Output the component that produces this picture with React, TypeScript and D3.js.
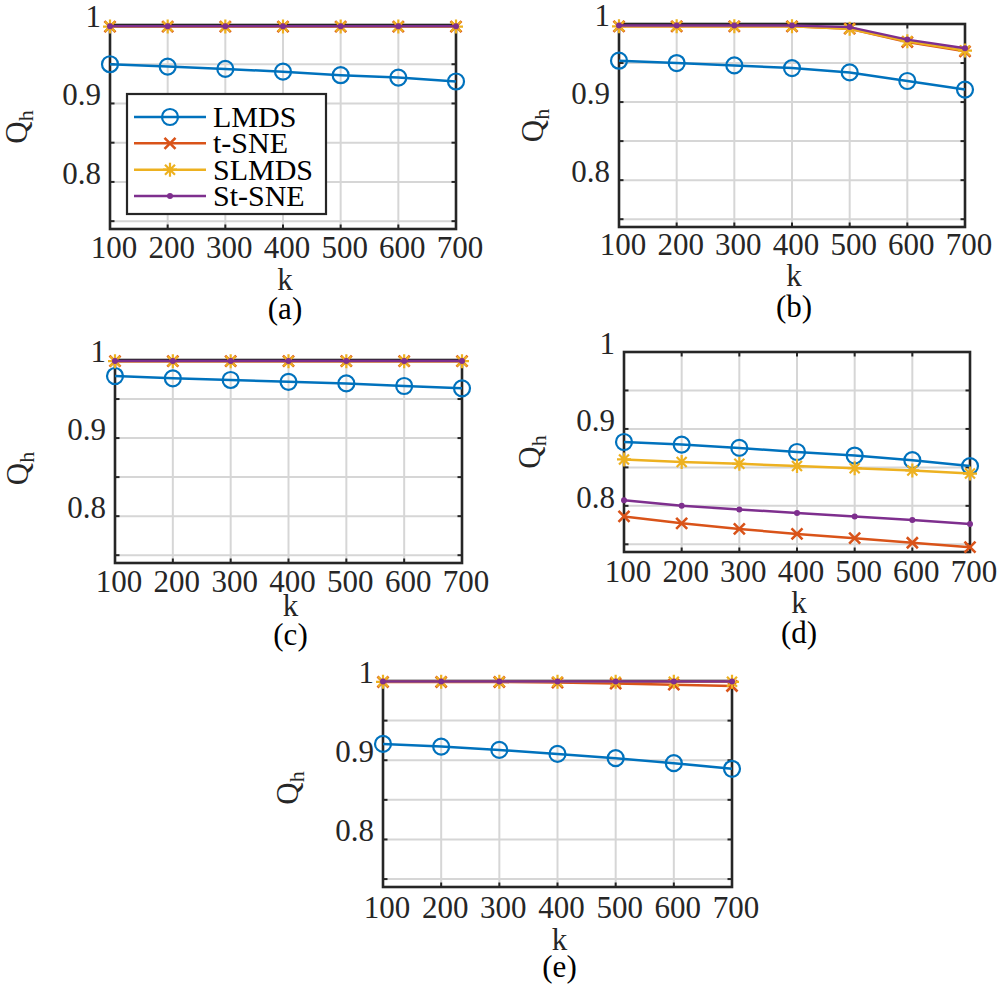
import * as d3 from "d3";
import React, { useEffect, useRef } from "react";

const kValues = [100, 200, 300, 400, 500, 600, 700];
const methodNames = ["LMDS", "t-SNE", "SLMDS", "St-SNE"];
const methodColors = ["#0072BD", "#D95319", "#EDB120", "#7E2F8E"];
const methodMarkers = ["o", "x", "*", "."];
const yTickValues = [0.75, 0.8, 0.85, 0.9, 0.95, 1];
const yTickLabels = ["", "0.8", "", "0.9", "", "1"];
const panelCaptions = ["(a)", "(b)", "(c)", "(d)", "(e)"];

// rows: LMDS, t-SNE, SLMDS, St-SNE
const qhPanelA = [
  [0.95, 0.947, 0.944, 0.9405, 0.936, 0.933, 0.928],
  [0.998, 0.998, 0.998, 0.998, 0.998, 0.998, 0.998],
  [0.998, 0.998, 0.998, 0.998, 0.998, 0.998, 0.998],
  [0.9985, 0.9985, 0.9985, 0.9985, 0.9985, 0.9985, 0.9985],
];
const qhPanelB = [
  [0.953, 0.95, 0.947, 0.9435, 0.938, 0.927, 0.916],
  [0.997, 0.997, 0.997, 0.997, 0.994, 0.977, 0.965],
  [0.997, 0.997, 0.997, 0.997, 0.994, 0.978, 0.966],
  [0.998, 0.998, 0.998, 0.998, 0.996, 0.98, 0.969],
];
const qhPanelC = [
  [0.9795, 0.9765, 0.9744, 0.972, 0.97, 0.9667, 0.9637],
  [0.9985, 0.9985, 0.9985, 0.9985, 0.9985, 0.9985, 0.9985],
  [0.9985, 0.9985, 0.9985, 0.9985, 0.9985, 0.9985, 0.9985],
  [0.9987, 0.9987, 0.9987, 0.9987, 0.9987, 0.9987, 0.9987],
];
const qhPanelD = [
  [0.883, 0.8796, 0.8753, 0.87, 0.8654, 0.8594, 0.8517],
  [0.7863, 0.7773, 0.77, 0.7635, 0.758, 0.752, 0.7463],
  [0.8603, 0.857, 0.8547, 0.8517, 0.849, 0.846, 0.842],
  [0.8074, 0.8, 0.7954, 0.7906, 0.786, 0.7816, 0.7765],
];
const qhPanelE = [
  [0.9206, 0.9172, 0.913, 0.908, 0.9026, 0.8963, 0.8892],
  [0.9987, 0.9987, 0.9987, 0.998, 0.9967, 0.9954, 0.9937],
  [0.999, 0.999, 0.999, 0.999, 0.999, 0.999, 0.999],
  [0.9995, 0.9995, 0.9995, 0.9995, 0.9995, 0.9995, 0.9995],
];
const panelValues = [qhPanelA, qhPanelB, qhPanelC, qhPanelD, qhPanelE];

// pixel layout of each axes box
const panelLayout = [
  { left: 110, right: 456, top: 25, bottom: 229, tickDy: 29, kDy: 61, capDy: 90, qx: 27, qdy: 0, legend: true },
  { left: 619, right: 965, top: 24, bottom: 227, tickDy: 28, kDy: 59, capDy: 90, qx: 543, qdy: 0, legend: false },
  { left: 115, right: 462, top: 360, bottom: 563, tickDy: 29, kDy: 53, capDy: 82, qx: 28, qdy: 7, legend: false },
  { left: 624, right: 970, top: 352, bottom: 552, tickDy: 30, kDy: 61, capDy: 91, qx: 540, qdy: 0, legend: false },
  { left: 383, right: 732, top: 681, bottom: 887, tickDy: 31, kDy: 63, capDy: 90, qx: 298, qdy: 4, legend: false },
];

const FONT = "'Times New Roman', 'Liberation Serif', serif";
const AXIS_COLOR = "#262626";
const GRID_COLOR = "#d6d6d6";

function drawMarker(g: any, type: string, x: number, y: number, color: string) {
  if (type === "o") {
    g.append("circle").attr("cx", x).attr("cy", y).attr("r", 8)
      .attr("fill", "none").attr("stroke", color).attr("stroke-width", 2.2);
  } else if (type === "x") {
    g.append("path")
      .attr("d", `M${x - 5.5},${y - 5.5}L${x + 5.5},${y + 5.5}M${x - 5.5},${y + 5.5}L${x + 5.5},${y - 5.5}`)
      .attr("stroke", color).attr("stroke-width", 2.6).attr("fill", "none");
  } else if (type === "*") {
    const a = 7, b = 5;
    g.append("path")
      .attr("d", `M${x - a},${y}H${x + a}M${x},${y - a}V${y + a}M${x - b},${y - b}L${x + b},${y + b}M${x - b},${y + b}L${x + b},${y - b}`)
      .attr("stroke", color).attr("stroke-width", 2.2).attr("fill", "none");
  } else {
    g.append("circle").attr("cx", x).attr("cy", y).attr("r", 3).attr("fill", color);
  }
}

const App: React.FC = () => {
  const svgRef = useRef<SVGSVGElement | null>(null);

  useEffect(() => {
    const svg = d3.select(svgRef.current);
    svg.html(""); // Clear previous contents

    panelLayout.forEach((p, pi) => {
      const x = d3.scaleLinear().domain([100, 700]).range([p.left, p.right]);
      const y = d3.scaleLinear().domain([0.74, 1.0]).range([p.bottom, p.top]);
      const g = svg.append("g");

      // grid
      kValues.forEach((k) => {
        g.append("line").attr("x1", x(k)).attr("x2", x(k)).attr("y1", p.top).attr("y2", p.bottom)
          .attr("stroke", GRID_COLOR).attr("stroke-width", 2);
      });
      yTickValues.forEach((t) => {
        g.append("line").attr("x1", p.left).attr("x2", p.right).attr("y1", y(t)).attr("y2", y(t))
          .attr("stroke", GRID_COLOR).attr("stroke-width", 2);
      });

      // ticks (inward, both sides)
      const tl = 4.5;
      kValues.forEach((k) => {
        g.append("line").attr("x1", x(k)).attr("x2", x(k)).attr("y1", p.bottom).attr("y2", p.bottom - tl)
          .attr("stroke", AXIS_COLOR).attr("stroke-width", 2);
        g.append("line").attr("x1", x(k)).attr("x2", x(k)).attr("y1", p.top).attr("y2", p.top + tl)
          .attr("stroke", AXIS_COLOR).attr("stroke-width", 2);
      });
      yTickValues.forEach((t) => {
        g.append("line").attr("x1", p.left).attr("x2", p.left + tl).attr("y1", y(t)).attr("y2", y(t))
          .attr("stroke", AXIS_COLOR).attr("stroke-width", 2);
        g.append("line").attr("x1", p.right).attr("x2", p.right - tl).attr("y1", y(t)).attr("y2", y(t))
          .attr("stroke", AXIS_COLOR).attr("stroke-width", 2);
      });

      // box
      g.append("rect").attr("x", p.left).attr("y", p.top)
        .attr("width", p.right - p.left).attr("height", p.bottom - p.top)
        .attr("fill", "none").attr("stroke", AXIS_COLOR).attr("stroke-width", 2.6);

      // tick labels
      kValues.forEach((k) => {
        g.append("text").attr("x", x(k) + 4).attr("y", p.bottom + p.tickDy)
          .attr("text-anchor", "middle").attr("font-family", FONT).attr("font-size", 31)
          .attr("fill", AXIS_COLOR).text(String(k));
      });
      yTickValues.forEach((t, i) => {
        if (!yTickLabels[i]) return;
        g.append("text").attr("x", p.left - 9).attr("y", y(t) + 2)
          .attr("text-anchor", "end").attr("font-family", FONT).attr("font-size", 31)
          .attr("fill", AXIS_COLOR).text(yTickLabels[i]);
      });

      // axis labels
      const cx = (p.left + p.right) / 2 + 2;
      g.append("text").attr("x", cx).attr("y", p.bottom + p.kDy)
        .attr("text-anchor", "middle").attr("font-family", FONT).attr("font-size", 31)
        .attr("fill", AXIS_COLOR).text("k");
      g.append("text").attr("x", cx).attr("y", p.bottom + p.capDy)
        .attr("text-anchor", "middle").attr("font-family", FONT).attr("font-size", 31)
        .attr("fill", "#000").text(panelCaptions[pi]);

      const qy = (p.top + p.bottom) / 2 + p.qdy;
      const qLabel = g.append("text")
        .attr("transform", `translate(${p.qx},${qy}) rotate(-90)`)
        .attr("text-anchor", "middle").attr("font-family", FONT).attr("font-size", 31)
        .attr("fill", AXIS_COLOR);
      qLabel.append("tspan").text("Q");
      qLabel.append("tspan").attr("font-size", 22).attr("dy", 6).text("h");

      // series
      const line = d3.line<number>().x((_d, i) => x(kValues[i])).y((d) => y(d));
      panelValues[pi].forEach((vals, si) => {
        const sg = g.append("g");
        sg.append("path").datum(vals).attr("d", line as any)
          .attr("fill", "none").attr("stroke", methodColors[si]).attr("stroke-width", 2.5);
        vals.forEach((v, i) => drawMarker(sg, methodMarkers[si], x(kValues[i]), y(v), methodColors[si]));
      });

      // legend
      if (p.legend) {
        const lg = g.append("g");
        lg.append("rect").attr("x", 127).attr("y", 94).attr("width", 199).attr("height", 120)
          .attr("fill", "#fff").attr("stroke", AXIS_COLOR).attr("stroke-width", 2.2);
        const rowY = d3.scalePoint<string>().domain(methodNames).range([117, 196]);
        methodNames.forEach((name, si) => {
          const ry = rowY(name) as number;
          lg.append("line").attr("x1", 134).attr("x2", 206).attr("y1", ry).attr("y2", ry)
            .attr("stroke", methodColors[si]).attr("stroke-width", 2.5);
          drawMarker(lg, methodMarkers[si], 170, ry, methodColors[si]);
          lg.append("text").attr("x", 213).attr("y", ry + 10)
            .attr("font-family", FONT).attr("font-size", 30).attr("fill", "#000").text(name);
        });
      }
    });
  }, []);

  return (
    <svg
      ref={svgRef}
      width={1000}
      height={991}
      style={{ position: "absolute", left: 0, top: 0, background: "#fff" }}
    ></svg>
  );
};

export default App;
